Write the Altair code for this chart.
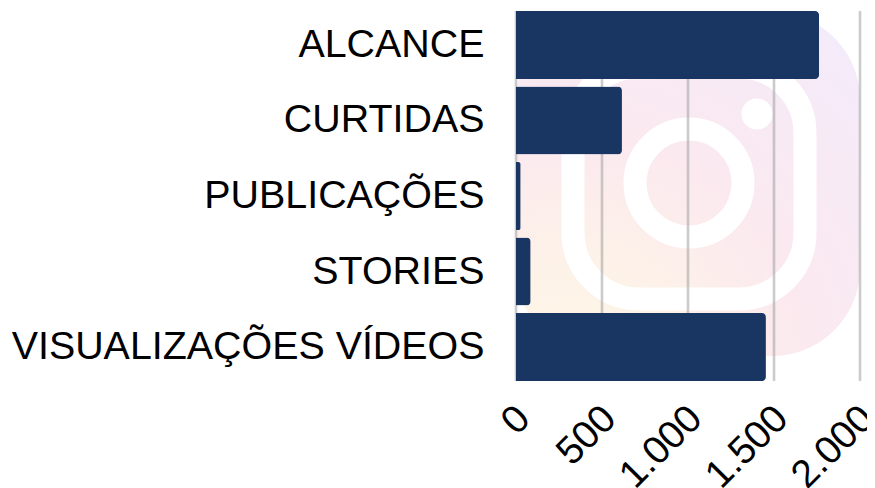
import altair as alt
import pandas as pd

categories = ["ALCANCE", "CURTIDAS", "PUBLICAÇÕES", "STORIES", "VISUALIZAÇÕES VÍDEOS"]
values = [1762, 616, 27, 85, 1453]
ticks = [0, 500, 1000, 1500, 2000]

bars_df = pd.DataFrame({"cat": categories, "val": values})
ticks_df = pd.DataFrame({"t": ticks})
one = pd.DataFrame({"a": [0]})

W, H = 344, 370
x_scale = alt.Scale(domain=[0, 2000], nice=False)
y_scale = alt.Scale(domain=categories, paddingInner=0.1, paddingOuter=0)
x_axis = alt.Axis(
    values=ticks, labelExpr="replace(format(datum.value, ','), ',', '.')",
    labelAngle=-45, labelAlign="right", labelBaseline="middle",
    labelFontSize=39, labelFont="Liberation Sans", labelColor="black",
    labelPadding=31, labelOffset=7, labelOverlap=False, labelFlush=False,
    ticks=False, domain=False, grid=False, title=None)

glow = alt.Gradient(
    gradient="radial", x1=0.15, y1=1.05, r1=0, x2=0.15, y2=1.05, r2=1.25,
    stops=[
        alt.GradientStop(offset=0, color="#fff7e6"),
        alt.GradientStop(offset=0.3, color="#fdf1e9"),
        alt.GradientStop(offset=0.55, color="#fbe9ef"),
        alt.GradientStop(offset=0.8, color="#f7eaf5"),
        alt.GradientStop(offset=1, color="#f4ebfa"),
    ],
)

base = alt.Chart(one)
logo_bg = base.mark_rect(fill=glow, cornerRadius=88).encode(
    x=alt.value(0), x2=alt.value(344), y=alt.value(1), y2=alt.value(345))
logo_ring = base.mark_rect(fill="transparent", stroke="white", strokeWidth=23, cornerRadius=66).encode(
    x=alt.value(57), x2=alt.value(289), y=alt.value(56), y2=alt.value(288))
logo_circle = base.mark_point(filled=False, stroke="white", strokeWidth=23, size=11664, opacity=1).encode(
    x=alt.value(173), y=alt.value(172))
logo_dot = base.mark_point(filled=True, fill="white", size=961, opacity=1).encode(
    x=alt.value(241), y=alt.value(103))

grid = alt.Chart(ticks_df).mark_rule(color="#a0a0a0", opacity=0.55, strokeWidth=2.6).encode(
    x=alt.X("t:Q", scale=x_scale, axis=x_axis))

bars = alt.Chart(bars_df).mark_bar(color="#193662", cornerRadiusEnd=4).encode(
    x=alt.X("val:Q", scale=x_scale, axis=x_axis),
    y=alt.Y("cat:N", scale=y_scale, sort=categories, title=None, axis=alt.Axis(
        labelFontSize=39.4, labelFont="Liberation Sans", labelColor="black",
        labelPadding=32, labelLimit=600, ticks=False, domain=False, grid=False)),
)

chart = alt.layer(
    logo_bg, logo_ring, logo_circle, logo_dot, grid, bars
).properties(
    width=W, height=H,
    autosize=alt.AutoSizeParams(type="none"),
    padding={"left": 508, "top": 3, "right": 7, "bottom": 107},
).configure_view(stroke=None)

chart.save("out.html", embed_options={"renderer": "svg", "actions": False})
